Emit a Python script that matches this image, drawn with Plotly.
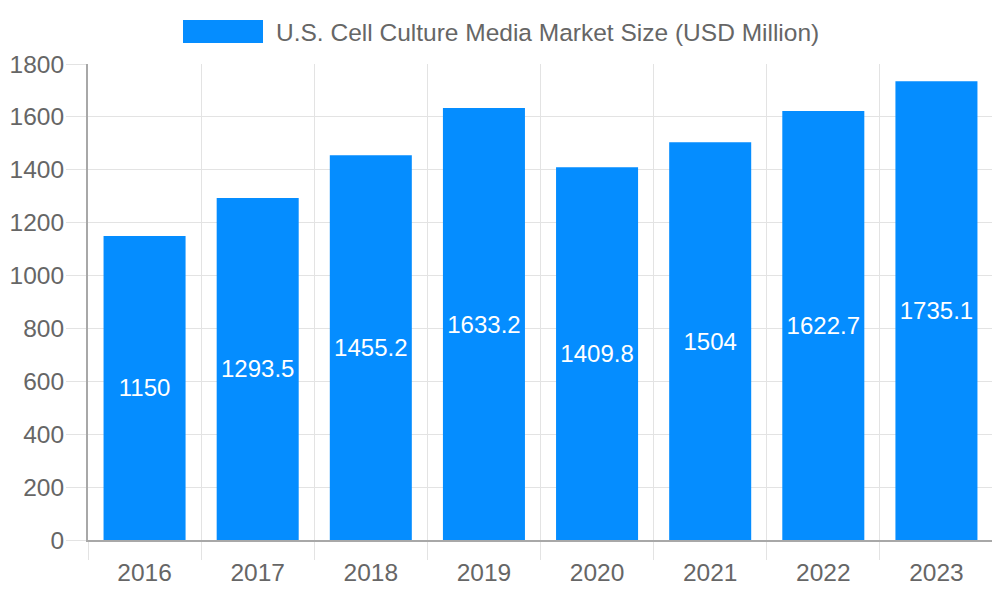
import plotly.graph_objects as go

years = ["2016", "2017", "2018", "2019", "2020", "2021", "2022", "2023"]
values = [1150, 1293.5, 1455.2, 1633.2, 1409.8, 1504, 1622.7, 1735.1]
series_name = "U.S. Cell Culture Media Market Size (USD Million)"
y_ticks = [0, 200, 400, 600, 800, 1000, 1200, 1400, 1600, 1800]

BAR = "#058dff"
GRID = "#e3e3e3"
AXIS = "#a8a8a8"
TXT = "#666666"
FONT = "Liberation Sans, Arial, sans-serif"

# page offset (body margin) of 8px compensated
OFF = 8
W, H = 1000, 600
L, R, T, B = 80, 15, 56, 68
# screen-space plot box
SX0, SX1 = OFF + L, OFF + W - R
SY0, SY1 = OFF + T, OFF + H - B
pw, ph = SX1 - SX0, SY1 - SY0

def px_x(p):
    return (p - SX0) / pw

def px_y(p):
    return (SY1 - p) / ph

fig = go.Figure()
fig.add_trace(go.Bar(
    x=years, y=values, name=series_name,
    marker=dict(color=BAR, line=dict(width=0)),
    width=0.725,
    text=[f"{v:g}" for v in values],
    textposition="inside", insidetextanchor="middle",
    textfont=dict(color="white", size=24, family=FONT),
    showlegend=False,
))

fig.update_layout(
    width=W, height=H,
    margin=dict(l=L, r=R, t=T, b=B, pad=0, autoexpand=False),
    paper_bgcolor="white", plot_bgcolor="white",
    font=dict(family=FONT, color=TXT, size=24.5),
    shapes=[dict(type="rect", xref="paper", yref="paper",
                 x0=px_x(183), x1=px_x(263), y0=px_y(43), y1=px_y(20),
                 fillcolor=BAR, line=dict(width=0))],
    annotations=[dict(text=series_name, xref="paper", yref="paper",
                      x=px_x(274), y=px_y(32), xanchor="left", yanchor="middle",
                      showarrow=False, font=dict(size=24.5, color=TXT, family=FONT))],
)
fig.update_xaxes(
    type="category", range=[-0.5, 7.5], automargin=False,
    showgrid=True, gridcolor=GRID, gridwidth=1,
    tickson="boundaries", ticks="outside", ticklen=18, tickcolor=GRID, tickwidth=1,
    ticklabelstandoff=10,
    showline=True, linecolor=AXIS, linewidth=2,
    tickfont=dict(size=24.5, color=TXT, family=FONT),
)
fig.update_yaxes(
    range=[0, 1800], tickvals=y_ticks, automargin=False,
    showgrid=True, gridcolor=GRID, gridwidth=1,
    ticks="outside", ticklen=20, tickcolor=GRID, tickwidth=1,
    ticklabelstandoff=-3,
    showline=True, linecolor=AXIS, linewidth=2,
    zeroline=False,
    tickfont=dict(size=24.5, color=TXT, family=FONT),
)

fig.write_html("out.html")
